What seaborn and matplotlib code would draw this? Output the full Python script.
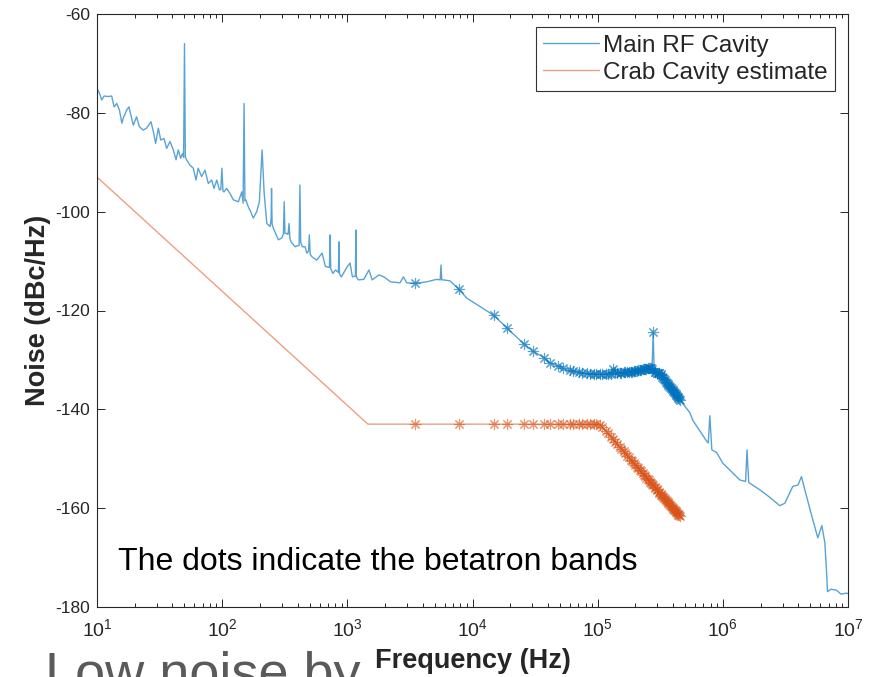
import numpy as np
import pandas as pd
import matplotlib
matplotlib.use("Agg")
import matplotlib.pyplot as plt
from matplotlib.ticker import LogLocator, FixedLocator, NullLocator
import seaborn as sns

# ---- Main RF cavity phase-noise spectrum (Hz, dBc/Hz) ----
main_freq_hz = [
    10, 10.6, 10.9, 11.4, 12.3, 13.1, 13.7, 14.4, 15.1, 15.8, 16.2, 17.3,
    18.0, 18.9, 19.5, 20.7, 21.8, 23.4, 24.9, 27.0, 28.2, 29.4, 30.9, 32.3,
    34.3, 36.0, 38.3, 40.7, 42.8, 44.6, 46.6, 48.3, 49.2, 50.0, 50.8, 52.0,
    55.3, 58.8, 61.8, 64.3, 68.5, 72.9, 77.5, 82.5, 86.1, 90.6, 95.1, 97.5,
    99.5, 101.5, 103.3, 108.5, 115.4, 122.8, 134.8, 143.4, 147.0, 149.6,
    152.0, 154.5, 161.5, 168.9, 177.2, 188.9, 198.3, 208.5, 216.5, 227.5,
    242.0, 246.0, 248.0, 250.5, 256.8, 281.6, 300.0, 308.5, 313.0, 317.5,
    328.0, 336.0, 342.0, 348.0, 355.0, 382.0, 412.0, 418.0, 424.0, 437.0,
    459.7, 474.3, 490.0, 497.0, 505.0, 520.0, 570.0, 628.0, 668.6, 720.0,
    728.0, 737.0, 765.4, 805, 848, 857, 866, 895.5, 1001, 1051, 1098, 1160,
    1170, 1180, 1224, 1356, 1487, 1580, 1787, 1960, 2215, 2638, 2805, 2982,
    3469, 4303, 5170, 5520, 5600, 5680, 5840, 6607, 7780, 9000, 11500, 14800,
    18800, 25300, 30300, 36600, 41500, 56600, 76100, 104000, 130000, 135000,
    140000, 190000, 260000, 272000, 277600, 283000, 314000, 378000, 454000,
    546000, 575000, 745000, 765000, 787000, 817000, 895000, 1000000, 1370000,
    1520000, 1560000, 1610000, 1980000, 2370000, 2850000, 3130000, 3620000,
    3990000, 4250000, 4520000, 5240000, 5740000, 6180000, 6530000, 6730000,
    6860000, 7300000, 8090000, 8800000, 9720000, 10000000,
]
main_db = [
    -75.0, -76.4, -77.4, -76.6, -76.7, -76.6, -78.8, -78.1, -79.4, -82.1,
    -81.1, -79.4, -78.8, -81.1, -82.5, -80.8, -82.8, -83.5, -83.1, -81.8,
    -83.8, -86.2, -83.1, -85.5, -85.2, -87.2, -85.8, -87.5, -89.5, -87.5,
    -89.2, -88.2, -89.0, -66.0, -89.0, -89.5, -90.6, -91.2, -93.6, -91.2,
    -92.9, -91.6, -94.3, -93.6, -95.3, -93.6, -95.6, -95.5, -91.2, -95.8,
    -96.0, -95.3, -96.3, -97.6, -98.0, -96.0, -98.3, -78.1, -97.8, -97.6,
    -99.0, -100.0, -101.3, -100.0, -98.0, -87.5, -96.3, -102.4, -103.0,
    -101.5, -95.3, -102.5, -103.4, -105.7, -105.3, -104.5, -98.0, -104.4,
    -104.4, -104.6, -102.4, -105.5, -106.1, -107.1, -106.8, -94.6, -106.2,
    -107.1, -107.1, -108.4, -108.0, -104.7, -108.6, -109.1, -109.8, -108.4,
    -111.1, -111.3, -104.7, -111.5, -112.5, -111.8, -112.3, -106.1, -112.6,
    -113.2, -111.1, -110.4, -113.2, -113.0, -103.7, -113.2, -113.8, -113.7,
    -111.8, -113.8, -112.8, -113.2, -114.2, -114.4, -113.2, -114.4, -114.5,
    -114.2, -113.7, -113.8, -110.8, -113.8, -113.8, -114.0, -115.7, -117.5,
    -119.2, -121.0, -123.5, -126.6, -128.2, -129.4, -130.6, -132.0, -132.7,
    -132.9, -132.8, -131.6, -132.7, -132.4, -131.7, -131.8, -124.3, -132.4,
    -132.7, -135.4, -138.1, -140.7, -142.2, -146.5, -146.8, -141.3, -148.2,
    -148.8, -150.9, -154.3, -154.6, -148.2, -154.8, -156.3, -157.8, -159.5,
    -159.0, -155.6, -155.3, -153.6, -156.3, -162.4, -166.0, -163.5, -167.0,
    -172.5, -176.9, -176.4, -176.6, -177.4, -177.2, -177.3,
]

# ---- Crab cavity noise estimate (piecewise) ----
crab_freq_hz = [10, 1460, 104000, 453290]
crab_db = [-93.0, -143.0, -143.0, -161.6]

# ---- Betatron bands (kHz) and the noise level of each curve there ----
betatron_khz = [
    3.49, 7.76, 14.73, 19.00, 25.98, 30.25, 37.22, 41.49, 48.47, 52.74,
    59.71, 63.98, 70.96, 75.23, 82.20, 86.47, 93.45, 97.72, 104.69, 108.96,
    115.94, 120.21, 127.18, 131.45, 138.43, 142.70, 149.67, 153.94, 160.92,
    165.19, 172.16, 176.43, 183.41, 187.68, 194.65, 198.92, 205.90, 210.17,
    217.14, 221.41, 228.39, 232.66, 239.63, 243.90, 250.88, 255.15, 262.12,
    266.39, 273.37, 277.64, 284.61, 288.88, 295.86, 300.13, 307.10, 311.37,
    318.35, 322.62, 329.59, 333.86, 340.84, 345.11, 352.08, 356.35, 363.33,
    367.60, 374.57, 378.84, 385.82, 390.09, 397.06, 401.33, 408.31, 412.58,
    419.55, 423.82, 430.80, 435.07, 442.04, 446.31, 453.29,
]
main_band_db = [
    -114.4, -115.7, -121.0, -123.6, -126.8, -128.2, -129.6, -130.6, -131.3,
    -131.7, -132.1, -132.3, -132.5, -132.6, -132.7, -132.8, -132.9, -132.9,
    -132.9, -132.9, -132.9, -132.8, -132.8, -131.9, -132.4, -132.7, -132.6,
    -132.6, -132.5, -132.5, -132.5, -132.4, -132.4, -132.4, -132.3, -132.3,
    -132.2, -132.1, -132.0, -132.0, -131.9, -131.9, -131.8, -131.8, -131.7,
    -131.7, -131.7, -131.7, -131.8, -124.3, -132.4, -132.5, -132.6, -132.6,
    -132.7, -132.7, -132.9, -133.1, -133.4, -133.6, -133.9, -134.1, -134.4,
    -134.6, -134.8, -135.0, -135.3, -135.5, -135.7, -135.9, -136.1, -136.3,
    -136.5, -136.7, -136.9, -137.1, -137.3, -137.5, -137.7, -137.9, -138.1,
]
crab_band_db = [
    -143.0, -143.0, -143.0, -143.0, -143.0, -143.0, -143.0, -143.0, -143.0,
    -143.0, -143.0, -143.0, -143.0, -143.0, -143.0, -143.0, -143.0, -143.0,
    -143.1, -143.6, -144.4, -144.8, -145.5, -146.0, -146.6, -147.0, -147.6,
    -148.0, -148.5, -148.8, -149.4, -149.7, -150.2, -150.5, -150.9, -151.2,
    -151.6, -151.9, -152.3, -152.5, -152.9, -153.2, -153.5, -153.8, -154.1,
    -154.3, -154.7, -154.9, -155.2, -155.4, -155.7, -155.9, -156.2, -156.4,
    -156.7, -156.9, -157.1, -157.3, -157.6, -157.7, -158.0, -158.2, -158.4,
    -158.6, -158.8, -159.0, -159.2, -159.3, -159.6, -159.7, -159.9, -160.1,
    -160.3, -160.4, -160.6, -160.8, -161.0, -161.1, -161.3, -161.4, -161.6,
]

xtick_values = [1e1, 1e2, 1e3, 1e4, 1e5, 1e6, 1e7]
ytick_values = [-180, -160, -140, -120, -100, -80, -60]

BLUE = "#0072BD"
ORANGE = "#D95319"
INK = "#262626"

sns.set_theme(style="white")
plt.rcParams["font.family"] = ["Liberation Sans", "DejaVu Sans"]
plt.rcParams["mathtext.fontset"] = "custom"
plt.rcParams["mathtext.rm"] = "Liberation Sans"
plt.rcParams["mathtext.it"] = "Liberation Sans:italic"
plt.rcParams["mathtext.bf"] = "Liberation Sans:bold"
plt.rcParams["axes.unicode_minus"] = False

main_df = pd.DataFrame({"freq": main_freq_hz, "noise": main_db})
crab_df = pd.DataFrame({"freq": crab_freq_hz, "noise": crab_db})
band_hz = [f * 1e3 for f in betatron_khz]
main_band_df = pd.DataFrame({"freq": band_hz, "noise": main_band_db})
crab_band_df = pd.DataFrame({"freq": band_hz, "noise": crab_band_db})

fig = plt.figure(figsize=(8.69, 6.77), dpi=100)
ax = fig.add_axes([97 / 869, 1 - 607 / 677, (848 - 97) / 869, (607 - 14) / 677])

sns.lineplot(data=main_df, x="freq", y="noise", ax=ax, color=BLUE, alpha=0.65,
             lw=1.0, label="Main RF Cavity", estimator=None, sort=False)
sns.lineplot(data=crab_df, x="freq", y="noise", ax=ax, color=ORANGE, alpha=0.55,
             lw=1.0, label="Crab Cavity estimate", estimator=None, sort=False)

asterisk = (8, 2, 0)
sns.scatterplot(data=main_band_df, x="freq", y="noise", ax=ax, marker=asterisk,
                s=55, color=BLUE, linewidth=0.8, alpha=0.65, legend=False, zorder=3)
sns.scatterplot(data=crab_band_df, x="freq", y="noise", ax=ax, marker=asterisk,
                s=55, color=ORANGE, linewidth=0.8, alpha=0.6, legend=False, zorder=3)

ax.set_xscale("log")
ax.set_xlim(1e1, 1e7)
ax.set_ylim(-180, -60)
ax.xaxis.set_major_locator(FixedLocator(xtick_values))
ax.xaxis.set_minor_locator(LogLocator(base=10, subs=np.arange(2, 10), numticks=20))
ax.yaxis.set_major_locator(FixedLocator(ytick_values))
ax.yaxis.set_minor_locator(NullLocator())

for side in ["left", "right", "top", "bottom"]:
    ax.spines[side].set_visible(True)
    ax.spines[side].set_color(INK)
    ax.spines[side].set_linewidth(0.8)

ax.tick_params(which="both", direction="in", top=True, right=True,
               bottom=True, left=True, colors=INK, labelcolor=INK, width=0.7)
ax.tick_params(which="major", length=5.5, pad=5)
ax.tick_params(which="minor", length=2.8)
ax.tick_params(axis="y", which="major", labelsize=12.5)
ax.tick_params(axis="x", which="major", labelsize=14, pad=8)

ax.set_xlabel("Frequency (Hz)", fontsize=19.5, fontweight="bold", color=INK, labelpad=6)
ax.set_ylabel("Noise (dBc/Hz)", fontsize=19.5, fontweight="bold", color=INK, labelpad=3)

leg = ax.legend(loc="upper right", fontsize=17.5, frameon=True, fancybox=False,
                framealpha=1, edgecolor="#333333", borderaxespad=0.55,
                handlelength=2.3, handletextpad=0.15, labelspacing=0.2,
                borderpad=0.3)
leg.get_frame().set_linewidth(0.8)

ax.text(0.028, 0.062, "The dots indicate the betatron bands", transform=ax.transAxes,
        fontsize=23, color="black", va="baseline", ha="left")

fig.text(45 / 869, -13 / 677, "Low noise by", fontsize=39, color="#5a5a5a",
         va="baseline", ha="left")

fig.savefig("out.png", dpi=100)
